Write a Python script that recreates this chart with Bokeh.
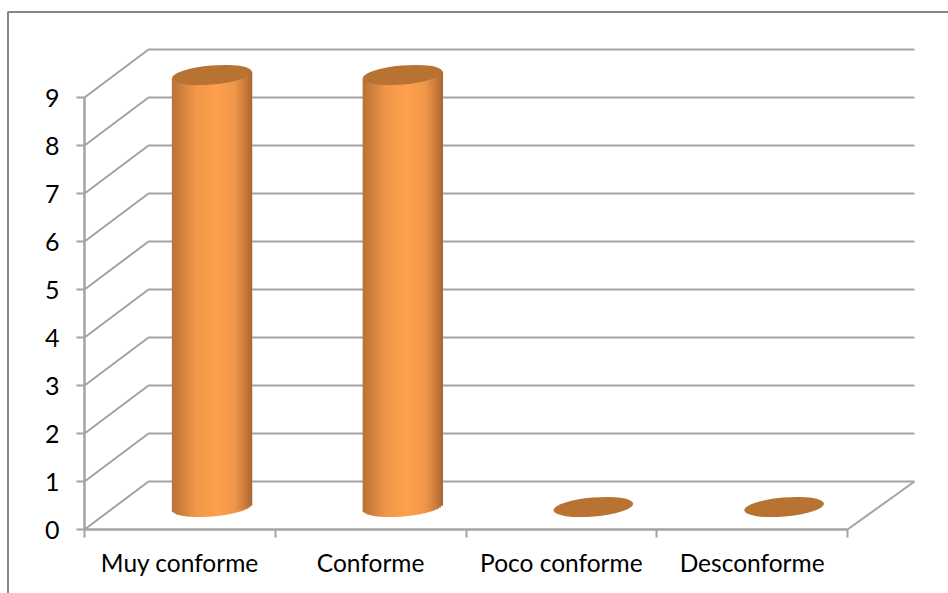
import numpy as np
from bokeh.embed import file_html
from bokeh.models import FixedTicker, Range1d
from bokeh.plotting import figure
from bokeh.resources import INLINE

categories = ["Muy conforme", "Conforme", "Poco conforme", "Desconforme"]
values = [9, 9, 0, 0]
value_ticks = list(range(10))

WIDTH, HEIGHT = 948, 593
X_ORIGIN, X_SCALE = 84.0, 190.75   # pixel of category 0, pixels per category
Y_ORIGIN, Y_SCALE = 529.0, 48.0    # pixel of value 0, pixels per unit
DEPTH_X = 64 / X_SCALE             # oblique depth of the 3D box
DEPTH_Y = 48 / Y_SCALE
BACK_EXTRA = 3 / X_SCALE           # back wall reaches slightly past the floor's front width
RADIUS_X = 40 / X_SCALE            # cylinder cross-section
RADIUS_Y = 9.5 / Y_SCALE
CENTER_Y = 22.5 / Y_SCALE          # cylinder axis sits mid-way into the floor
TILT = np.radians(5)

GRID = "#A3A3A3"
FRAME = "#868686"
CAP = "#B87333"
STOPS = [0.0, 0.10, 0.30, 0.55, 0.78, 0.92, 1.0]
SHADES = ["#B87333", "#CC7E3C", "#F0974A", "#FFA04C", "#F0974A", "#C97C3B", "#A9652E"]


def data_x(px):
    return (px - X_ORIGIN) / X_SCALE


def data_y(py):
    return (Y_ORIGIN - py) / Y_SCALE


p = figure(width=WIDTH, height=HEIGHT, output_backend="svg", toolbar_location=None,
           x_range=Range1d(data_x(0), data_x(WIDTH)),
           y_range=Range1d(data_y(HEIGHT), data_y(0)),
           min_border=0, outline_line_color=None)
p.grid.visible = False

# Chart-area border, running off the page on the right and at the bottom
p.line([data_x(7.5), data_x(7.5), data_x(WIDTH)],
       [data_y(HEIGHT), data_y(11.5), data_y(11.5)], line_color=FRAME, line_width=2)

# Back wall and side wall gridlines
n_cat = len(categories)
for v in value_ticks:
    p.line([0, DEPTH_X, n_cat + DEPTH_X + BACK_EXTRA], [v, v + DEPTH_Y, v + DEPTH_Y],
           line_color=GRID, line_width=2)
# Floor edge on the right
p.line([n_cat, n_cat + DEPTH_X + BACK_EXTRA], [0, DEPTH_Y], line_color=GRID, line_width=2)


def shade(t):
    rgb = np.array([[int(c[i:i + 2], 16) for i in (1, 3, 5)] for c in SHADES], dtype=float)
    return "#%02x%02x%02x" % tuple(int(round(np.interp(t, STOPS, rgb[:, k]))) for k in range(3))


# Lower edge of the tilted cross-section, in pixel offsets from its centre
a_px, b_px = RADIUS_X * X_SCALE, RADIUS_Y * Y_SCALE
phase = np.linspace(np.pi, 2 * np.pi, 200)
edge_u = a_px * np.cos(phase) * np.cos(TILT) - b_px * np.sin(phase) * np.sin(TILT)
edge_v = a_px * np.cos(phase) * np.sin(TILT) + b_px * np.sin(phase) * np.cos(TILT)
order = np.argsort(edge_u)
edge_u, edge_v = edge_u[order], edge_v[order]

for i, val in enumerate(values):
    cx = i + 0.5 + DEPTH_X / 2
    if val > 0:
        edges = np.linspace(-a_px, a_px, 41)
        mids = (edges[:-1] + edges[1:]) / 2
        p.quad(left=cx + edges[:-1] / X_SCALE, right=cx + edges[1:] / X_SCALE + 0.4 / X_SCALE,
               bottom=CENTER_Y + np.interp(mids, edge_u, edge_v) / Y_SCALE,
               top=val + CENTER_Y + np.tan(TILT) * mids / Y_SCALE,
               fill_color=[shade((m + a_px) / (2 * a_px)) for m in mids], line_color=None)
    p.ellipse(x=[cx], y=[val + CENTER_Y], width=2 * a_px, height=2 * b_px,
              width_units="screen", height_units="screen",
              angle=TILT, fill_color=CAP, line_color=None)

# Front axes drawn on top of the floor
p.xaxis.fixed_location = 0
p.xaxis.bounds = (0, n_cat)
p.xaxis.ticker = FixedTicker(ticks=[i + 0.5 for i in range(n_cat)], minor_ticks=list(range(n_cat + 1)))
p.xaxis.major_label_overrides = {i + 0.5: c for i, c in enumerate(categories)}
p.xaxis.major_tick_line_color = None
p.xaxis.minor_tick_in = 0
p.xaxis.minor_tick_out = 8
p.xaxis.minor_tick_line_color = GRID
p.xaxis.minor_tick_line_width = 2
p.xaxis.axis_line_color = GRID
p.xaxis.axis_line_width = 2.5
p.xaxis.major_label_standoff = 10
p.xaxis.major_label_text_font = "Lato"
p.xaxis.major_label_text_font_size = "24.5px"
p.xaxis.major_label_text_color = "#000000"

p.yaxis.fixed_location = 0
p.yaxis.bounds = (0, max(value_ticks))
p.yaxis.ticker = FixedTicker(ticks=value_ticks)
p.yaxis.minor_tick_line_color = None
p.yaxis.major_tick_in = 0
p.yaxis.major_tick_out = 8
p.yaxis.major_tick_line_color = GRID
p.yaxis.major_tick_line_width = 2
p.yaxis.axis_line_color = GRID
p.yaxis.axis_line_width = 2.5
p.yaxis.major_label_standoff = 17
p.yaxis.major_label_text_font = "Lato"
p.yaxis.major_label_text_font_size = "25px"
p.yaxis.major_label_text_color = "#000000"

open("out.html", "w").write(file_html(p, INLINE))
